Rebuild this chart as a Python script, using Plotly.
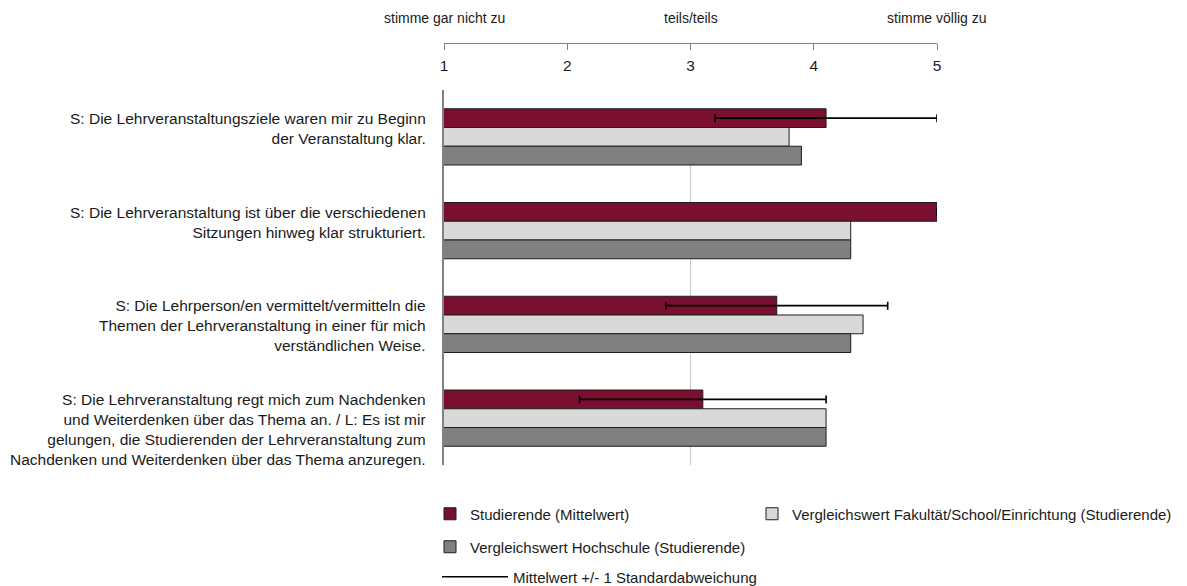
import plotly.graph_objects as go

# ---------------- data ----------------
categories = [
    "S: Die Lehrveranstaltungsziele waren mir zu Beginn<br>der Veranstaltung klar.",
    "S: Die Lehrveranstaltung ist über die verschiedenen<br>Sitzungen hinweg klar strukturiert.",
    "S: Die Lehrperson/en vermittelt/vermitteln die<br>Themen der Lehrveranstaltung in einer für mich<br>verständlichen Weise.",
    "S: Die Lehrveranstaltung regt mich zum Nachdenken<br>und Weiterdenken über das Thema an. / L: Es ist mir<br>gelungen, die Studierenden der Lehrveranstaltung zum<br>Nachdenken und Weiterdenken über das Thema anzuregen.",
]
studierende = [4.1, 5.0, 3.7, 3.1]
studierende_sd = [0.9, 0.0, 0.9, 1.0]
fakultaet = [3.8, 4.3, 4.4, 4.1]
hochschule = [3.9, 4.3, 4.3, 4.1]

scale_ticks = [1, 2, 3, 4, 5]
scale_labels = ["stimme gar nicht zu", "teils/teils", "stimme völlig zu"]
scale_label_pos = [1, 3, 5]
midpoint = 3

series_names = [
    "Studierende (Mittelwert)",
    "Vergleichswert Fakultät/School/Einrichtung (Studierende)",
    "Vergleichswert Hochschule (Studierende)",
]
sd_name = "Mittelwert +/- 1 Standardabweichung"

# ---------------- style ----------------
FONT = "Liberation Sans, Arial, sans-serif"
TXT = "#1a1a1a"
C_STUD = "#7a0f30"
C_FAK = "#d9d9d9"
C_HS = "#808080"
EDGE = "#1f1f1f"
BARGAP = 0.40

# page has an 8px body margin; figure is sized/positioned to compensate
OFF = 8
W, H = 1187 - OFF, 586 - OFF
ML = 444 - OFF
MR = W - (937 - OFF)
MT = 43 - OFF
MB = H - (465 - OFF)
plot_h = H - MT - MB
data_h = 465 - 90
dom_top = data_h / plot_h  # data area below the top axis
half_group_px = data_h / len(categories) * (1 - BARGAP) / 2

fig = go.Figure()

fig.add_trace(go.Bar(
    y=categories, x=studierende, orientation="h", name=series_names[0],
    marker=dict(color=C_STUD, line=dict(color=EDGE, width=1)),
    error_x=dict(type="data", array=studierende_sd, symmetric=True,
                 color="#000000", thickness=1.6, width=4),
    legend="legend",
))
fig.add_trace(go.Bar(
    y=categories, x=fakultaet, orientation="h", name=series_names[1],
    marker=dict(color=C_FAK, line=dict(color=EDGE, width=1)),
    legend="legend2",
))
fig.add_trace(go.Bar(
    y=categories, x=hochschule, orientation="h", name=series_names[2],
    marker=dict(color=C_HS, line=dict(color=EDGE, width=1)),
    legend="legend3",
))
fig.add_trace(go.Scatter(
    x=[None], y=[None], mode="lines", name=sd_name,
    line=dict(color="#000000", width=1.3), legend="legend4",
))

fig.add_vline(x=midpoint, line=dict(color="#c8c8c8", width=1), layer="below",
              y0=0, y1=dom_top)

# scale anchor labels above the axis
for lab, pos in zip(scale_labels, scale_label_pos):
    fig.add_annotation(x=pos, y=(H - MB - (18 - OFF)) / plot_h, xref="x", yref="paper",
                       text=lab, showarrow=False, xanchor="center", yanchor="middle",
                       font=dict(family=FONT, size=14, color=TXT))

# category labels, top-aligned with each bar group
for cat in categories:
    fig.add_annotation(x=0, y=cat, xref="paper", yref="y", text=cat,
                       showarrow=False, xanchor="right", yanchor="top", align="right",
                       xshift=-16, yshift=half_group_px + 1,
                       font=dict(family=FONT, size=15.5, color=TXT))

legend_common = dict(orientation="h", xref="container", yref="container",
                     xanchor="left", yanchor="middle",
                     font=dict(family=FONT, size=15, color=TXT),
                     bgcolor="rgba(0,0,0,0)", traceorder="normal")

fig.update_layout(
    width=W, height=H,
    margin=dict(l=ML, r=MR, t=MT, b=MB, pad=0),
    paper_bgcolor="white", plot_bgcolor="white",
    barmode="group", bargap=BARGAP, bargroupgap=0,
    font=dict(family=FONT, size=15.5, color=TXT),
    xaxis=dict(range=[1, 5], tickvals=scale_ticks, side="bottom",
               anchor="free", position=1.0, automargin=False,
               showline=True, linecolor="#808080", linewidth=1,
               ticks="outside", ticklen=6, tickcolor="#808080", tickwidth=1,
               ticklabelstandoff=2,
               showgrid=False, zeroline=False,
               tickfont=dict(family=FONT, size=15.5, color=TXT)),
    yaxis=dict(domain=[0, dom_top], autorange="reversed", automargin=False,
               showline=True, linecolor="#808080", linewidth=1.5,
               ticks="", showgrid=False, showticklabels=False),
    showlegend=True,
    legend=dict(**legend_common, x=(430 - OFF) / W, y=1 - (514 - OFF) / H),
    legend2=dict(**legend_common, x=(752 - OFF) / W, y=1 - (514 - OFF) / H),
    legend3=dict(**legend_common, x=(430 - OFF) / W, y=1 - (547 - OFF) / H),
    legend4=dict(**legend_common, x=(437 - OFF) / W, y=1 - (577 - OFF) / H,
                 itemwidth=66),
)

fig.write_html("out.html")
